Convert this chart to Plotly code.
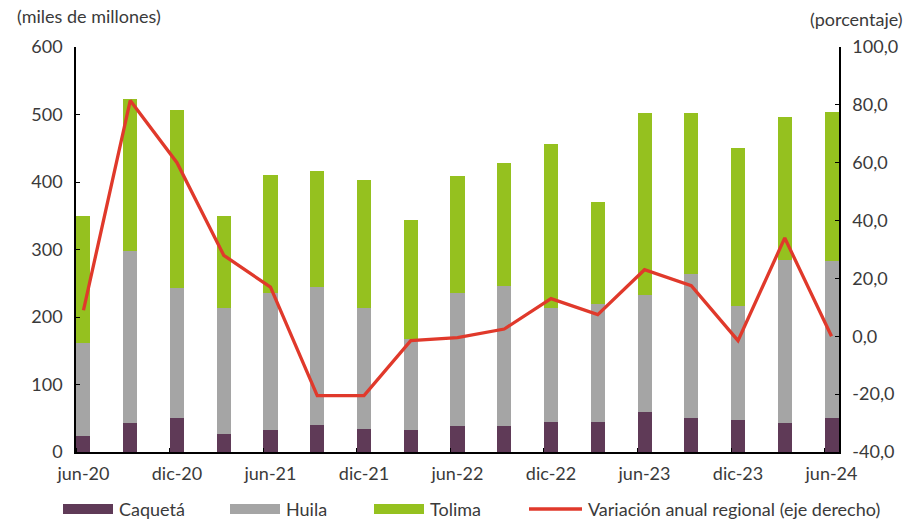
import plotly.graph_objects as go

# ─────────────────────────────────────────────
# Data
# ─────────────────────────────────────────────
PERIODS = ["jun-20", "sep-20", "dic-20", "mar-21", "jun-21", "sep-21", "dic-21", "mar-22",
           "jun-22", "sep-22", "dic-22", "mar-23", "jun-23", "sep-23", "dic-23", "mar-24", "jun-24"]
CAQUETA = [23, 43, 51, 27, 33, 40, 34, 33, 38, 38, 44, 44, 59, 50, 47, 43, 50]
HUILA = [138, 255, 192, 187, 202, 205, 180, 134, 197, 208, 170, 176, 173, 214, 169, 242, 233]
TOLIMA = [189, 225, 264, 136, 176, 171, 189, 177, 174, 182, 242, 151, 270, 238, 235, 211, 221]
VARIACION = [9.0, 81.5, 60.0, 28.0, 17.0, -20.5, -20.5, -1.5, -0.5, 2.5, 13.0, 7.5,
             23.0, 17.5, -1.5, 34.0, 0.0]

LEFT_TICKS = [0, 100, 200, 300, 400, 500, 600]
RIGHT_TICKS = [-40, -20, 0, 20, 40, 60, 80, 100]
RIGHT_LABELS = ["-40,0", "-20,0", "0,0", "20,0", "40,0", "60,0", "80,0", "100,0"]

COLORS = {"Caquetá": "#5F3A57", "Huila": "#A5A5A5", "Tolima": "#95C11F", "line": "#E0392B"}
FONT = "Lato"
TXT = "#3A3A3A"
FS = 18

# plot area in pixels (for the hand-drawn legend)
L, R, T, B = 76, 70, 47, 68
W, H = 909, 520
PW, PH = W - L - R, H - T - B


def px2x(px):
    return (px - L) / PW


def py2y(py):
    return (H - B - py) / PH


x = list(range(len(PERIODS)))

fig = go.Figure()
for name, vals in [("Caquetá", CAQUETA), ("Huila", HUILA), ("Tolima", TOLIMA)]:
    fig.add_trace(go.Bar(
        x=x, y=vals, name=name, width=0.3,
        marker=dict(color=COLORS[name], line=dict(width=0)),
        showlegend=False,
    ))

fig.add_trace(go.Scatter(
    x=x, y=VARIACION, yaxis="y2", mode="lines",
    name="Variación anual regional (eje derecho)",
    line=dict(color=COLORS["line"], width=3.3),
    showlegend=False,
))

fig.update_layout(
    width=W, height=H,
    margin=dict(l=L, r=R, t=T, b=B, autoexpand=False),
    barmode="stack", bargap=0,
    plot_bgcolor="white", paper_bgcolor="white",
    font=dict(family=FONT, size=FS, color=TXT),
    xaxis=dict(
        range=[-0.16, len(PERIODS) - 1 + 0.16],
        tickvals=x[::2], ticktext=PERIODS[::2],
        ticks="", showline=True, linecolor="black", linewidth=1.5,
        showgrid=False, zeroline=False,
        minor=dict(tick0=-0.15, dtick=2, ticks="inside", ticklen=4, tickcolor="black", showgrid=False),
        ticklabelstandoff=5,
    ),
    yaxis=dict(
        range=[0, 600], tickvals=LEFT_TICKS,
        ticks="inside", ticklen=4, tickcolor="black",
        showline=True, linecolor="black", linewidth=1.5,
        showgrid=False, zeroline=False,
        ticklabelstandoff=8,
    ),
    yaxis2=dict(
        range=[-40, 100], tickvals=RIGHT_TICKS, ticktext=RIGHT_LABELS,
        overlaying="y", side="right",
        ticks="inside", ticklen=4, tickcolor="black",
        showline=True, linecolor="black", linewidth=1.5,
        showgrid=False, zeroline=False,
        ticklabelstandoff=8,
    ),
)

# axis unit labels
fig.add_annotation(text="(miles de millones)", xref="paper", yref="paper",
                   x=px2x(15), y=py2y(16), xanchor="left", yanchor="middle",
                   showarrow=False)
fig.add_annotation(text="(porcentaje)", xref="paper", yref="paper",
                   x=px2x(905), y=py2y(19), xanchor="right", yanchor="middle",
                   showarrow=False)

# custom legend with wide swatches
legend_items = [
    ("Caquetá", 63, 113, "rect"),
    ("Huila", 230, 280, "rect"),
    ("Tolima", 374, 424, "rect"),
    ("Variación anual regional (eje derecho)", 529, 582, "line"),
]
LEG_Y = 509
for label, x0, x1, kind in legend_items:
    if kind == "rect":
        fig.add_shape(type="rect", xref="paper", yref="paper",
                      x0=px2x(x0), x1=px2x(x1), y0=py2y(LEG_Y + 5), y1=py2y(LEG_Y - 5),
                      fillcolor=COLORS[label], line=dict(width=0))
    else:
        fig.add_shape(type="line", xref="paper", yref="paper",
                      x0=px2x(x0), x1=px2x(x1), y0=py2y(LEG_Y), y1=py2y(LEG_Y),
                      line=dict(color=COLORS["line"], width=3.5))
    fig.add_annotation(text=label, xref="paper", yref="paper",
                       x=px2x(x1 + 4), y=py2y(LEG_Y), xanchor="left", yanchor="middle",
                       showarrow=False)

# the page's default body margin would shift the figure out of the window
fig.write_html("out.html", config={"displayModeBar": False},
               post_script="document.body.style.margin='0';")
